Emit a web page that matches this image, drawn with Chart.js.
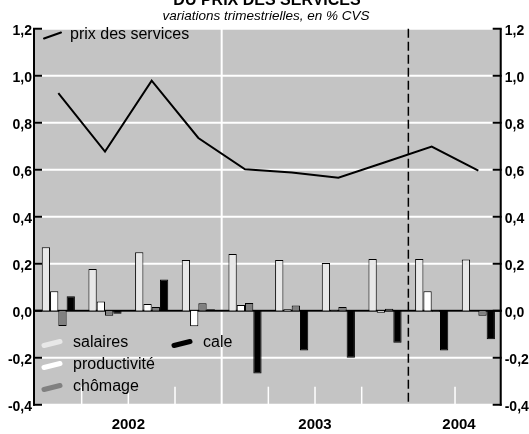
<!DOCTYPE html>
<html lang="fr">
<head>
  <meta charset="UTF-8" />
  <title>Prix des services</title>
  <script src="https://cdn.jsdelivr.net/npm/chart.js"></script>
  <style>
    html, body { margin: 0; padding: 0; background: #fff; }
    canvas { display: block; }
  </style>
</head>
<body>
  <canvas id="chart" width="529" height="434"></canvas>

  <script>
    // quarters 2002 T1 .. 2004 T2
    const quarters = ["2002 T1", "2002 T2", "2002 T3", "2002 T4",
                      "2003 T1", "2003 T2", "2003 T3", "2003 T4",
                      "2004 T1", "2004 T2"];
    const years = ["2002", "2003", "2004"];
    const quartersPerYear = [4, 4, 2];
    const yTicks = [-0.4, -0.2, 0, 0.2, 0.4, 0.6, 0.8, 1.0, 1.2];

    const prixServices = [0.926, 0.677, 0.979, 0.735, 0.602, 0.588, 0.566, 0.632, 0.698, 0.596];
    const salaires     = [0.27, 0.177, 0.249, 0.216, 0.241, 0.216, 0.203, 0.22, 0.22, 0.218];
    const productivite = [0.083, 0.039, 0.028, -0.066, 0.024, 0.006, 0.002, -0.009, 0.083, 0.0];
    const chomage      = [-0.065, -0.022, 0.016, 0.032, 0.033, 0.022, 0.016, 0.008, -0.004, -0.022];
    const cale         = [0.062, -0.013, 0.133, 0.006, -0.267, -0.169, -0.2, -0.136, -0.169, -0.122];

    const FONT = '"Liberation Sans", Arial, Helvetica, sans-serif';

    function barSet(label, data, color) {
      return {
        type: 'bar', label: label, data: data,
        backgroundColor: color, borderColor: '#000', borderWidth: 1,
        categoryPercentage: 0.71, barPercentage: 1.0
      };
    }

    // background, grid, axes and texts
    const framePlugin = {
      id: 'frame',
      beforeDraw(chart) {
        const { ctx, chartArea: a } = chart;
        ctx.save();
        ctx.fillStyle = '#fff';
        ctx.fillRect(0, 0, chart.width, chart.height);
        ctx.fillStyle = '#c4c4c4';
        ctx.fillRect(a.left, a.top, a.right - a.left, a.bottom - a.top);
        ctx.restore();
      },
      beforeDatasetsDraw(chart) {
        const { ctx, chartArea: a, scales: { x, y } } = chart;
        ctx.save();
        // horizontal grid
        ctx.strokeStyle = '#fff';
        ctx.lineWidth = 2;
        yTicks.forEach(v => {
          const py = y.getPixelForValue(v);
          ctx.beginPath(); ctx.moveTo(a.left, py); ctx.lineTo(a.right, py); ctx.stroke();
        });
        // quarter boundaries
        let idx = 0;
        const yearEnds = quartersPerYear.map(n => (idx += n));
        for (let i = 1; i < quarters.length; i++) {
          const px = (x.getPixelForValue(i - 1) + x.getPixelForValue(i)) / 2;
          ctx.beginPath();
          if (i === yearEnds[0]) {
            ctx.strokeStyle = '#fff'; ctx.lineWidth = 2; ctx.setLineDash([]);
            ctx.moveTo(px, a.top); ctx.lineTo(px, a.bottom);
          } else if (i === yearEnds[1]) {
            ctx.strokeStyle = '#000'; ctx.lineWidth = 1.5; ctx.setLineDash([9, 4]);
            ctx.moveTo(px, a.top); ctx.lineTo(px, a.bottom);
          } else {
            ctx.strokeStyle = '#fff'; ctx.lineWidth = 1.5; ctx.setLineDash([]);
            ctx.moveTo(px, a.bottom - 18); ctx.lineTo(px, a.bottom);
          }
          ctx.stroke();
        }
        ctx.setLineDash([]);
        // zero line
        const y0 = y.getPixelForValue(0);
        ctx.strokeStyle = '#000'; ctx.lineWidth = 2;
        ctx.beginPath(); ctx.moveTo(a.left, y0); ctx.lineTo(a.right, y0); ctx.stroke();
        ctx.restore();
      },
      afterDatasetsDraw(chart) {
        const { ctx, chartArea: a, scales: { x, y } } = chart;
        ctx.save();
        // axes
        ctx.strokeStyle = '#000'; ctx.lineWidth = 2;
        ctx.beginPath();
        ctx.moveTo(a.left - 1, a.top); ctx.lineTo(a.left - 1, a.bottom + 1);
        ctx.moveTo(a.right - 1, a.top); ctx.lineTo(a.right - 1, a.bottom + 1);
        ctx.stroke();
        ctx.fillStyle = '#000';
        ctx.font = 'bold 14px ' + FONT;
        ctx.textBaseline = 'middle';
        yTicks.forEach(v => {
          const py = y.getPixelForValue(v);
          ctx.beginPath();
          ctx.moveTo(a.left - 2, py); ctx.lineTo(a.left + 7, py);
          ctx.moveTo(a.right, py); ctx.lineTo(a.right - 9, py);
          ctx.stroke();
          const txt = v.toFixed(1).replace('.', ',');
          ctx.textAlign = 'right';
          ctx.fillText(txt, a.left - 3, py + 2);
          ctx.textAlign = 'left';
          ctx.fillText(txt, a.right + 3, py + 2);
        });
        // year labels
        ctx.font = 'bold 15px ' + FONT;
        ctx.textAlign = 'center';
        let start = 0;
        years.forEach((yr, k) => {
          const n = quartersPerYear[k];
          const cx = (x.getPixelForValue(start) + x.getPixelForValue(start + n - 1)) / 2;
          ctx.fillText(yr, k === 2 ? cx + 4 : cx, a.bottom + 20);
          start += n;
        });
        // titles
        ctx.font = 'bold 16px ' + FONT;
        ctx.textBaseline = 'alphabetic';
        ctx.fillText('DU PRIX DES SERVICES', 267, 4.5);
        ctx.font = 'italic 13.5px ' + FONT;
        ctx.fillText('variations trimestrielles, en % CVS', 266, 20);

        // legends
        const ds = chart.data.datasets;
        ctx.font = '16px ' + FONT;
        ctx.textAlign = 'left';
        ctx.textBaseline = 'middle';
        ctx.lineCap = 'round';
        // line legend
        ctx.strokeStyle = '#000'; ctx.lineWidth = 2;
        ctx.beginPath(); ctx.moveTo(44, 38.5); ctx.lineTo(61, 32.5); ctx.stroke();
        ctx.fillText(ds[0].label, 70, 35);
        // bar legend
        const items = [
          { d: ds[1], x: 44, y: 343 },
          { d: ds[2], x: 44, y: 365 },
          { d: ds[3], x: 44, y: 387 },
          { d: ds[4], x: 174, y: 343 }
        ];
        items.forEach(it => {
          ctx.strokeStyle = it.d.backgroundColor; ctx.lineWidth = 5;
          ctx.beginPath(); ctx.moveTo(it.x, it.y + 2.5); ctx.lineTo(it.x + 16, it.y - 1.5); ctx.stroke();
          ctx.fillStyle = '#000';
          ctx.fillText(it.d.label, it.x + 29, it.y);
        });
        ctx.restore();
      }
    };

    new Chart(document.getElementById('chart'), {
      data: {
        labels: quarters,
        datasets: [
          {
            type: 'line', label: 'prix des services', data: prixServices,
            borderColor: '#000', borderWidth: 2, pointRadius: 0, tension: 0, fill: false
          },
          barSet('salaires', salaires, '#e8e8e8'),
          barSet('productivité', productivite, '#ffffff'),
          barSet('chômage', chomage, '#808080'),
          barSet('cale', cale, '#000000')
        ]
      },
      options: {
        responsive: false,
        animation: false,
        devicePixelRatio: 1,
        layout: { padding: { left: 35, right: 27.3, top: 28.7, bottom: 29.3 } },
        scales: {
          x: { type: 'category', offset: true, display: false },
          y: { type: 'linear', min: -0.4, max: 1.2, display: false }
        },
        plugins: { legend: { display: false }, tooltip: { enabled: false } }
      },
      plugins: [framePlugin]
    });
  </script>
</body>
</html>
